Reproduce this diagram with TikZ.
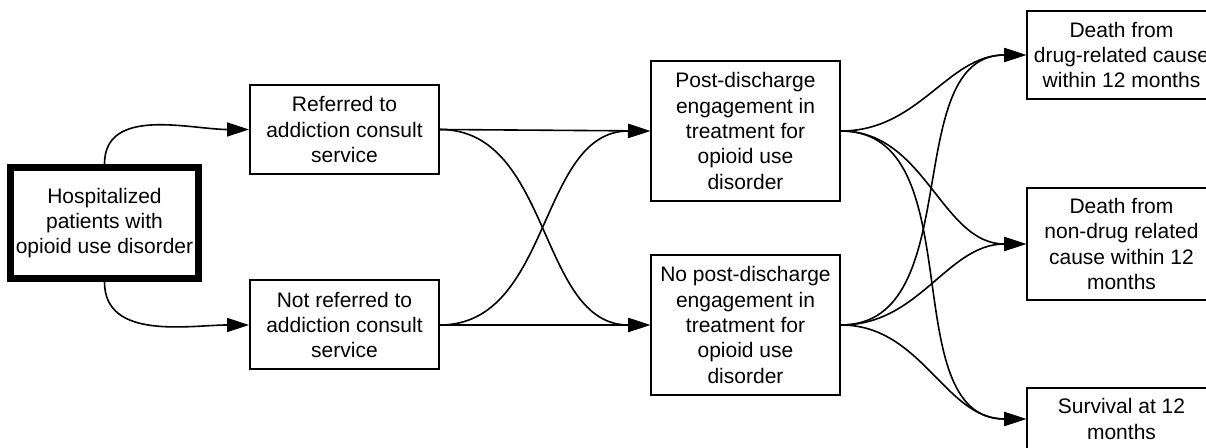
\documentclass[tikz,border=0pt]{standalone}
\usepackage{fontspec}
\setmainfont{Liberation Sans}
\usetikzlibrary{arrows.meta}

\begin{document}
\begin{tikzpicture}[
    x = 0.5pt,
    y = -0.5pt,
    box/.style = {
    rectangle,
    draw,
    line width = 1pt,
    text = black,
    align = center,
    inner sep = 0pt,
    minimum width = 94.5pt,
    minimum height = 44.5pt,
    font = \fontsize{10.5pt}{12.7pt}\selectfont
    },
    arr/.style = {
    line width = 0.8pt,
    -{Triangle[length = 11pt, width = 7pt]}
    }
    ]
    \useasboundingbox (0,0) rectangle (1206,448);
    \node[
    box,
    line width = 3.5pt,
    minimum width = 94pt,
    minimum height = 55.5pt
    ] (hosp) at (104.5,223){Hospitalized\\patients with\\opioid use disorder};
    \node[box] (ref) at (344.5,129.5){Referred to\\addiction consult\\service};
    \node[box] (nref) at (344.5,325){Not referred to\\addiction consult\\service};
    \node[
    box,
    minimum height = 70pt
    ] (eng) at (745.5,131){Post-discharge\\engagement in\\treatment for\\opioid use\\disorder};
    \node[
    box,
    minimum height = 70pt
    ] (neng) at (745.5,325){No post-discharge\\engagement in\\treatment for\\opioid use\\disorder};
    \node[
    box,
    minimum height = 44pt
    ] (dd) at (1121.5,55){Death from\\drug-related cause\\within 12 months};
    \node[
    box,
    minimum height = 56pt
    ] (nd) at (1121.5,244){Death from\\non-drug related\\cause within 12\\months};
    \node[
    box,
    minimum height = 31pt
    ] (surv) at (1121.5,419){Survival at 12\\months};
    \draw[arr] (hosp.north) to[out = 90, in = 180] (ref.west);
    \draw[arr] (hosp.south) to[out = -90, in = 180] (nref.west);
    \draw[arr] (ref.east) -- (eng.west);
    \draw[arr] (ref.east) to[out = 0, in = 180] (neng.west);
    \draw[arr] (nref.east) -- (neng.west);
    \draw[arr] (nref.east) to[out = 0, in = 180] (eng.west);
    \draw[arr] (eng.east) to[out = 0, in = 180] (dd.west);
    \draw[arr] (eng.east) to[out = 0, in = 180] (nd.west);
    \draw[arr] (eng.east) to[out = 0, in = 180] (surv.west);
    \draw[arr] (neng.east) to[out = 0, in = 180] (dd.west);
    \draw[arr] (neng.east) to[out = 0, in = 180] (nd.west);
    \draw[arr] (neng.east) to[out = 0, in = 180] (surv.west);
  \end{tikzpicture}
\end{document}
